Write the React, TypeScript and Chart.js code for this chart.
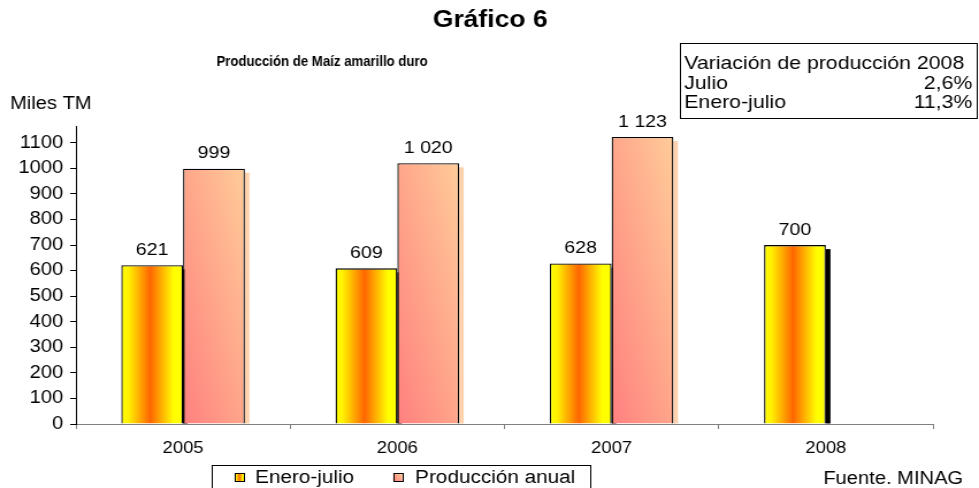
import React, { useEffect, useRef } from 'react';
import { Chart, registerables } from 'chart.js';

Chart.register(...registerables);

const categories = ['2005', '2006', '2007', '2008'];
const eneroJulio = [621, 609, 628, 700];
const produccionAnual: (number | null)[] = [999, 1020, 1123, null];
const seriesNames = ['Enero-julio', 'Producción anual'];
const yTickValues = [0, 100, 200, 300, 400, 500, 600, 700, 800, 900, 1000, 1100];
const tableRows: [string, string][] = [
  ['Variación de producción 2008', ''],
  ['Julio', '2,6%'],
  ['Enero-julio', '11,3%'],
];
const titleText = 'Gráfico 6';
const subtitleText = 'Producción de Maíz amarillo duro';
const unitText = 'Miles TM';
const sourceText = 'Fuente. MINAG';

const S = 1.15; // horizontal stretch of the reference
const H = 488;
const W = Math.round(979 / S);
const sx = (px: number) => px / S;
const FONT = '"Liberation Sans", Arial, sans-serif';
const CAT_PCT = 0.577;
const Y_MAX = 1166;

function fmt(v: number) {
  if (v >= 1000) return `${Math.floor(v / 1000)} ${String(v % 1000).padStart(3, '0')}`;
  return String(v);
}

function barRect(chart: any, ds: number, i: number, v: number) {
  const xs = chart.scales.x;
  const ys = chart.scales.y;
  if (!xs || !ys || !(xs.right > xs.left)) return null;
  const cat = (xs.right - xs.left) / categories.length;
  const groupW = cat * CAT_PCT;
  const barW = groupW / 2;
  const center = xs.getPixelForValue(i);
  const left = center - groupW / 2 + ds * barW;
  const top = ys.getPixelForValue(v);
  const bottom = ys.getPixelForValue(0);
  return { left, right: left + barW, top, bottom, w: barW, h: bottom - top };
}

function eneroGrad(ctx: CanvasRenderingContext2D, left: number, w: number) {
  const g = ctx.createLinearGradient(left, 0, left + w, 0);
  g.addColorStop(0, '#FFFF00');
  g.addColorStop(0.12, '#FFF000');
  g.addColorStop(0.47, '#FF6600');
  g.addColorStop(0.85, '#FFFF00');
  g.addColorStop(1, '#FFFF00');
  return g;
}

function pinkGrad(ctx: CanvasRenderingContext2D, left: number, bottom: number, w: number, h: number) {
  const len = Math.sqrt(w * w + h * h) || 1;
  const dx = h / len;
  const dy = -w / len;
  const L = (2 * w * h) / len;
  const g = ctx.createLinearGradient(left, bottom, left + dx * L, bottom + dy * L);
  g.addColorStop(0, '#FF8080');
  g.addColorStop(0.5, '#FFA68A');
  g.addColorStop(1, '#FFCC99');
  return g;
}

const shadowPlugin = {
  id: 'barShadows',
  beforeDatasetsDraw(chart: any) {
    const ctx = chart.ctx;
    ctx.save();
    chart.data.datasets.forEach((_: any, di: number) => {
      const meta = chart.getDatasetMeta(di);
      meta.data.forEach((el: any, i: number) => {
        const v = chart.data.datasets[di].data[i];
        if (v == null) return;
        const w = el.width;
        ctx.fillStyle = di === 0 ? '#000000' : '#FFD2AE';
        ctx.fillRect(el.x + w / 2, el.y + 4, 4, el.base - el.y - 4);
      });
    });
    ctx.restore();
  },
};

const labelPlugin = {
  id: 'valueLabels',
  afterDatasetsDraw(chart: any) {
    const ctx = chart.ctx;
    ctx.save();
    ctx.fillStyle = '#000';
    ctx.font = `17px ${FONT}`;
    ctx.textAlign = 'center';
    ctx.textBaseline = 'middle';
    chart.data.datasets.forEach((ds: any, di: number) => {
      const meta = chart.getDatasetMeta(di);
      meta.data.forEach((el: any, i: number) => {
        const v = ds.data[i];
        if (v == null) return;
        ctx.fillText(fmt(v), el.x, el.y - 15);
      });
    });
    ctx.restore();
  },
};

const decorPlugin = {
  id: 'decor',
  afterDraw(chart: any) {
    const ctx: CanvasRenderingContext2D = chart.ctx;
    ctx.save();
    ctx.fillStyle = '#000';
    ctx.textBaseline = 'middle';
    // title
    ctx.textAlign = 'center';
    ctx.font = `bold 23px ${FONT}`;
    ctx.fillText(titleText, sx(490), 21);
    // subtitle (condensed horizontally)
    ctx.save();
    ctx.translate(sx(322), 62);
    ctx.scale(0.765, 1);
    ctx.font = `bold 15px ${FONT}`;
    ctx.fillText(subtitleText, 0, 0);
    ctx.restore();
    // unit
    ctx.textAlign = 'left';
    ctx.font = `17.5px ${FONT}`;
    ctx.fillText(unitText, sx(10), 104);
    // table
    ctx.strokeStyle = '#000';
    ctx.lineWidth = 1;
    ctx.strokeRect(Math.round(sx(680)) + 0.5, 43.5, Math.round(sx(977) - sx(680)), 75);
    ctx.font = `18.5px ${FONT}`;
    const rowY = [64, 84, 103];
    tableRows.forEach((r, k) => {
      ctx.textAlign = 'left';
      ctx.fillText(r[0], sx(684), rowY[k]);
      if (r[1]) {
        ctx.textAlign = 'right';
        ctx.fillText(r[1], sx(972), rowY[k]);
      }
    });
    // legend
    ctx.strokeRect(Math.round(sx(212)) + 0.5, 465.5, Math.round(sx(590) - sx(212)), 30);
    ctx.font = `18px ${FONT}`;
    const items = [
      { mx: sx(235), tx: sx(255), ds: 0 },
      { mx: sx(393), tx: sx(415), ds: 1 },
    ];
    items.forEach((it) => {
      const mw = 8;
      const my = 473;
      ctx.fillStyle = it.ds === 0 ? eneroGrad(ctx, it.mx, mw) : pinkGrad(ctx, it.mx, my + mw, mw, mw);
      ctx.fillRect(it.mx, my, mw, mw);
      ctx.strokeRect(Math.round(it.mx) + 0.5, my + 0.5, mw, mw);
      ctx.fillStyle = '#000';
      ctx.textAlign = 'left';
      ctx.fillText(seriesNames[it.ds], it.tx, 478);
    });
    // source
    ctx.font = `17.5px ${FONT}`;
    ctx.fillText(sourceText, sx(823), 479);
    ctx.restore();
  },
};

export default function App() {
  const ref = useRef<HTMLCanvasElement | null>(null);
  useEffect(() => {
    if (!ref.current) return;
    const xAxisH = 30;
    const chart = new Chart(ref.current, {
      type: 'bar',
      data: {
        labels: categories,
        datasets: [
          {
            label: seriesNames[0],
            data: eneroJulio,
            backgroundColor: (c: any) => {
              if (c.dataIndex == null) return '#FF9900';
              const r = barRect(c.chart, 0, c.dataIndex, c.raw);
              if (!r) return '#FF9900';
              return eneroGrad(c.chart.ctx, r.left, r.w);
            },
            borderColor: '#000000',
            borderWidth: 1.3,
            categoryPercentage: CAT_PCT,
            barPercentage: 1,
          },
          {
            label: seriesNames[1],
            data: produccionAnual,
            backgroundColor: (c: any) => {
              if (c.dataIndex == null || c.raw == null) return '#FFA68A';
              const r = barRect(c.chart, 1, c.dataIndex, c.raw);
              if (!r) return '#FFA68A';
              return pinkGrad(c.chart.ctx, r.left, r.bottom, r.w, r.h);
            },
            borderColor: '#000000',
            borderWidth: 1.3,
            categoryPercentage: CAT_PCT,
            barPercentage: 1,
          },
        ],
      },
      options: {
        responsive: false,
        animation: false,
        devicePixelRatio: 1,
        layout: {
          padding: { left: 0, top: 126, right: W - Math.round(sx(933)), bottom: H - 424 - xAxisH },
        },
        plugins: {
          legend: { display: false },
          title: { display: false },
          tooltip: { enabled: false },
        },
        scales: {
          x: {
            type: 'category',
            offset: true,
            grid: {
              offset: true,
              drawOnChartArea: false,
              drawTicks: true,
              tickLength: 5,
              color: '#808080',
            },
            border: { color: '#808080', width: 1 },
            ticks: { color: '#000', font: { family: FONT, size: 16 }, padding: 10 },
            afterFit: (s: any) => {
              s.height = xAxisH;
            },
          },
          y: {
            type: 'linear',
            min: 0,
            max: Y_MAX,
            afterBuildTicks: (s: any) => {
              s.ticks = yTickValues.map((v) => ({ value: v }));
            },
            grid: {
              drawOnChartArea: false,
              drawTicks: true,
              tickLength: 5,
              color: '#000',
            },
            border: { color: '#000', width: 1 },
            ticks: {
              color: '#000',
              font: { family: FONT, size: 17.5 },
              padding: 6,
              callback: (v: any) => String(v),
            },
            afterFit: (s: any) => {
              s.width = Math.round(sx(76));
            },
          },
        },
      },
      plugins: [shadowPlugin, labelPlugin, decorPlugin],
    });
    return () => chart.destroy();
  }, []);
  return (
    <div style={{ position: 'fixed', left: 0, top: 0, width: 979, height: H, background: '#fff' }}>
      <canvas ref={ref} width={W} height={H} style={{ width: 979, height: H, display: 'block' }} />
    </div>
  );
}
